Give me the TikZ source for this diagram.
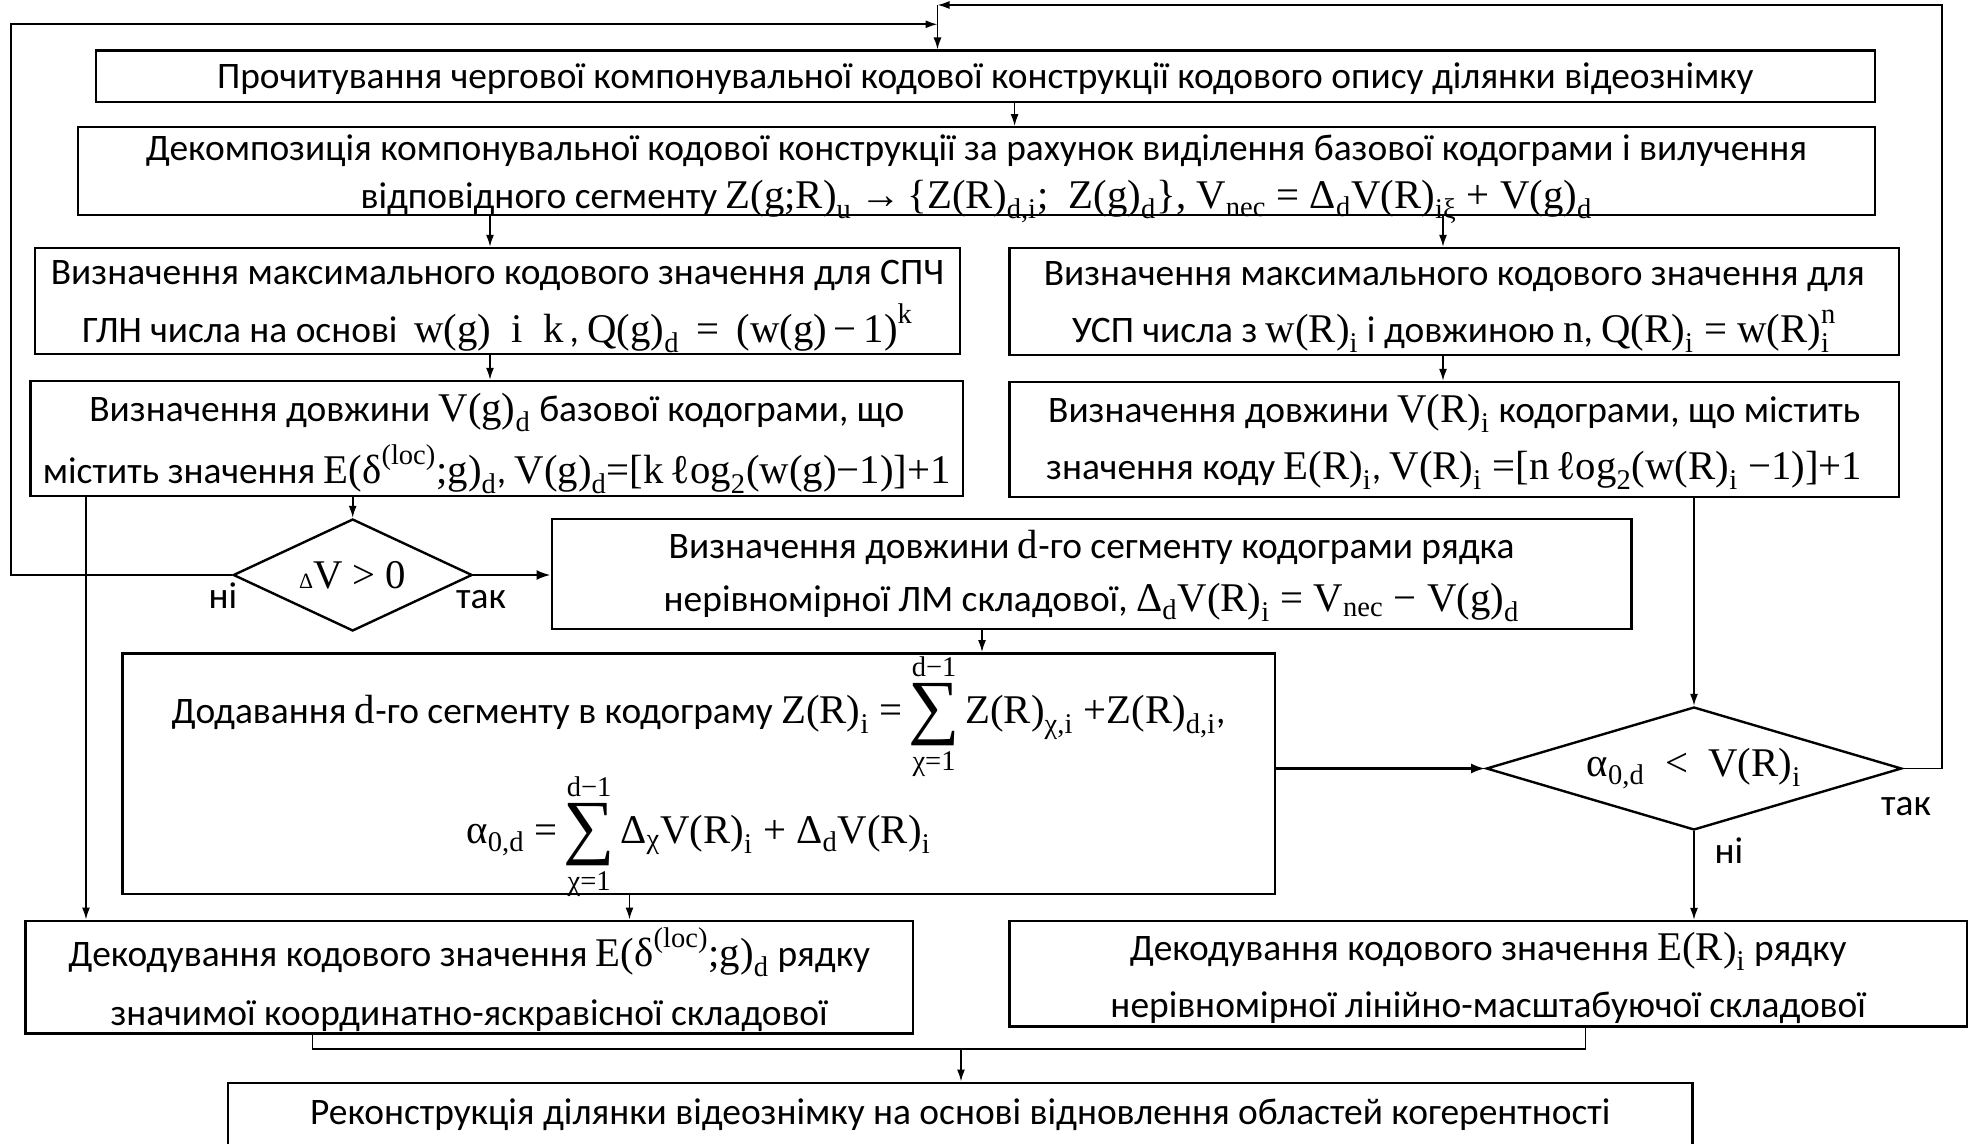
\documentclass[tikz,border=0pt]{standalone}
\usepackage{fontspec}
\usepackage{amsmath}
\setmainfont{Carlito}
\newfontfamily\tnr[Scale=1.09]{Liberation Serif}
\usetikzlibrary{arrows.meta,shapes.geometric,calc}
\newcommand\M[1]{\text{\tnr #1}}
\newcommand\SumL{\mathop{\vcenter{\hbox{\tnr\fontsize{33}{33}\selectfont ∑}}}\limits^{\M{d−1}}_{\M{χ=1}}}
\newcommand\fs[1]{\fontsize{18.7}{#1}\selectfont\lineskiplimit=-50pt\relax}
\begin{document}
\begin{tikzpicture}[x=0.5pt,y=-0.5pt,
  box/.style={draw, line width=1.2pt, rectangle, inner sep=0pt},
  tx/.style={inner sep=0pt, align=center, font=\fs{#1}},
  tx/.default=28,
  dia/.style={draw, diamond, line width=1.2pt, inner sep=0pt},
  conn/.style={line width=0.8pt},
  arr/.style={line width=0.8pt, -{Latex[length=6pt,width=4pt]}},
  harr/.style={line width=1.1pt, -{Latex[length=7pt,width=5pt]}},
  lbl/.style={inner sep=0pt, font=\fs{20}}]
\useasboundingbox (0,0) rectangle (1970,1144);
\clip (0,0) rectangle (1970,1144);

% boxes (frames)
\node[box, minimum width=889.65pt, minimum height=25.65pt] (b1) at (985.35,76.35) {};
\node[box, minimum width=898.5pt, minimum height=43.85pt] (b2) at (976.5,171.15) {};
\node[box, minimum width=462.5pt, minimum height=53pt] (b3) at (497.5,301) {};
\node[box, minimum width=444.75pt, minimum height=53.5pt] (b4) at (1454.25,301.5) {};
\node[box, minimum width=466.2pt, minimum height=57.5pt] (b5) at (496.8,438.5) {};
\node[box, minimum width=444.75pt, minimum height=57.5pt] (b6) at (1454.25,439.5) {};
\node[dia, minimum width=119.5pt, minimum height=56pt] (d1) at (352.7,575) {};
\node[box, minimum width=539.85pt, minimum height=55pt] (b7) at (1091.55,574) {};
\node[box, minimum width=576.2pt, minimum height=120.35pt] (b8) at (698.6,773.65) {};
\node[dia, minimum width=207.7pt, minimum height=61.5pt] (d2) at (1694,768.5) {};
\node[box, minimum width=443.75pt, minimum height=56.3pt] (b9) at (469.25,977) {};
\node[box, minimum width=478.75pt, minimum height=52.75pt] (b10) at (1488.25,973.75) {};
\node[box, minimum width=732.3pt, minimum height=50pt, anchor=north] (b11) at (960.3,1081.5) {};

% texts
\node[tx] (b1t) at ($(b1.center)+(0,2.5)$)
  {Прочитування чергової компонувальної кодової конструкції кодового опису ділянки відеознімку};
\node[tx=24] (b2t) at ($(b2.center)+(0,8)$)
  {Декомпозиція компонувальної кодової конструкції за рахунок виділення базової кодограми і вилучення\\
   відповідного сегменту $\M{Z(g;R)}_{\M{u}}\ \M{→\,\{Z(R)}_{\M{d,i}}\M{;\ \ Z(g)}_{\M{d}}\M{\}, V}_{\M{nec}}\M{ = Δ}_{\M{d}}\M{V(R)}_{\M{iξ}}\M{ + V(g)}_{\M{d}}$};
\node[tx=28.9] (b3t) at ($(b3.center)+(0,5.7)$)
  {Визначення максимального кодового значення для СПЧ\\
   ГЛН числа на основі \ $\M{w(g) \ i \ k}\,$, $\M{Q(g)}_{\M{d}}\M{ \,= \,(w(g)\,−\,1)}^{\M{k}}$};
\node[tx=28.3] (b4t) at ($(b4.center)+(0,5.7)$)
  {Визначення максимального кодового значення для\\
   УСП числа з $\M{w(R)}_{\M{i}}$ і довжиною $\M{n}$, $\M{Q(R)}_{\M{i}}\M{ = w(R)}_{\M{i}}^{\M{n}}$};
\node[tx=31.25] (b5t) at ($(b5.center)+(0,5)$)
  {Визначення довжини $\M{V(g)}_{\M{d}}$ базової кодограми, що\\
   містить значення $\M{E(δ}^{\M{(loc)}}\M{;g)}_{\M{d}}$, $\M{V(g)}_{\M{d}}\M{=[k\,ℓog}_{\M{2}}\M{(w(g)−1)]+1}$};
\node[tx=28.7] (b6t) at ($(b6.center)+(0,2.5)$)
  {Визначення довжини $\M{V(R)}_{\M{i}}$ кодограми, що містить\\
   значення коду $\M{E(R)}_{\M{i}}$, $\M{V(R)}_{\M{i}}\M{ =[n\,ℓog}_{\M{2}}\M{(w(R)}_{\M{i}}\M{ −1)]+1}$};
\node[tx=20] (d1t) at (d1.center) {\tnr{\fontsize{10}{10}\selectfont Δ}V > 0};
\node[tx=26.8] (b7t) at ($(b7.center)+(0,2)$)
  {Визначення довжини $\M{d}$-го сегменту кодограми рядка\\
   нерівномірної ЛМ складової, $\M{Δ}_{\M{d}}\M{V(R)}_{\M{i}}\M{ = V}_{\M{nec}}\M{ − V(g)}_{\M{d}}$};
\node[tx=60] (b8t) at ($(b8.center)+(0,3)$)
  {Додавання $\M{d}$-го сегменту в кодограму $\M{Z(R)}_{\M{i}}\M{ =}\SumL\M{Z(R)}_{\M{χ,i}}\M{ +Z(R)}_{\M{d,i}}$,\\
   $\M{α}_{\M{0,d}}\M{ =}\SumL\M{Δ}_{\M{χ}}\M{V(R)}_{\M{i}}\M{ + Δ}_{\M{d}}\M{V(R)}_{\M{i}}$};
\node[tx=20] (d2t) at (d2.center) {$\M{α}_{\M{0,d}}\M{ \ < \ V(R)}_{\M{i}}$};
\node[tx=29.5] (b9t) at ($(b9.center)+(0,3)$)
  {Декодування кодового значення $\M{E(δ}^{\M{(loc)}}\M{;g)}_{\M{d}}$ рядку\\
   значимої координатно-яскравісної складової};
\node[tx=28.5] (b10t) at ($(b10.center)+(0,4)$)
  {Декодування кодового значення $\M{E(R)}_{\M{i}}$ рядку\\
   нерівномірної лінійно-масштабуючої складової};
\node[lbl, anchor=base] (b11t) at (960.3,1124)
  {Реконструкція ділянки відеознімку на основі відновлення областей когерентності};

% labels
\node[lbl, anchor=base] (n1) at (223,608) {ні};
\node[lbl, anchor=base] (y1) at (481,608) {так};
\node[lbl, anchor=base] (y2) at (1906,815) {так};
\node[lbl, anchor=base] (n2) at (1729,863) {ні};

% helper coordinates
\coordinate (jn) at (937.5,5);
\coordinate (jl) at (937.5,24.3);
\coordinate (lc) at (11,24.3);
\coordinate (rc) at (1942,5);
\coordinate (c1) at (1014.6,0);
\coordinate (c2) at (490,0);
\coordinate (c3) at (1443,0);
\coordinate (c4) at (86,0);
\coordinate (c5) at (982,0);
\coordinate (c6) at (629.5,0);
\coordinate (bj) at (312.5,1049);
\coordinate (bk) at (1585.5,1049);
\coordinate (bm) at (961,1049);

% connectors
\draw[arr] (d1.west) -| (lc) -- (jl);
\draw[arr] (d2.east) -| (rc) -- (jn);
\draw[arr] (jn) -- (b1.north -| jn);
\draw[arr] (b1.south -| c1) -- (b2.north -| c1);
\draw[arr] (b2.south -| c2) -- (b3.north -| c2);
\draw[arr] (b2.south -| c3) -- (b4.north -| c3);
\draw[arr] (b3.south -| c2) -- (b5.north -| c2);
\draw[arr] (b4.south -| c3) -- (b6.north -| c3);
\draw[arr] (b5.south -| d1.north) -- (d1.north);
\draw[arr] (b5.south -| c4) -- (b9.north -| c4);
\draw[harr] (d1.east) -- (d1.east -| b7.west);
\draw[arr] (b7.south -| c5) -- (b8.north -| c5);
\draw[harr] (b8.east |- d2.west) -- (d2.west);
\draw[arr] (b6.south -| d2.north) -- (d2.north);
\draw[arr] (d2.south) -- (b10.north -| d2.south);
\draw[arr] (b8.south -| c6) -- (b9.north -| c6);
\draw[conn] (b9.south -| bj) -- (bj) -- (bk) -- (b10.south -| bk);
\draw[arr] (bm) -- (b11.north -| bm);
\end{tikzpicture}
\end{document}
